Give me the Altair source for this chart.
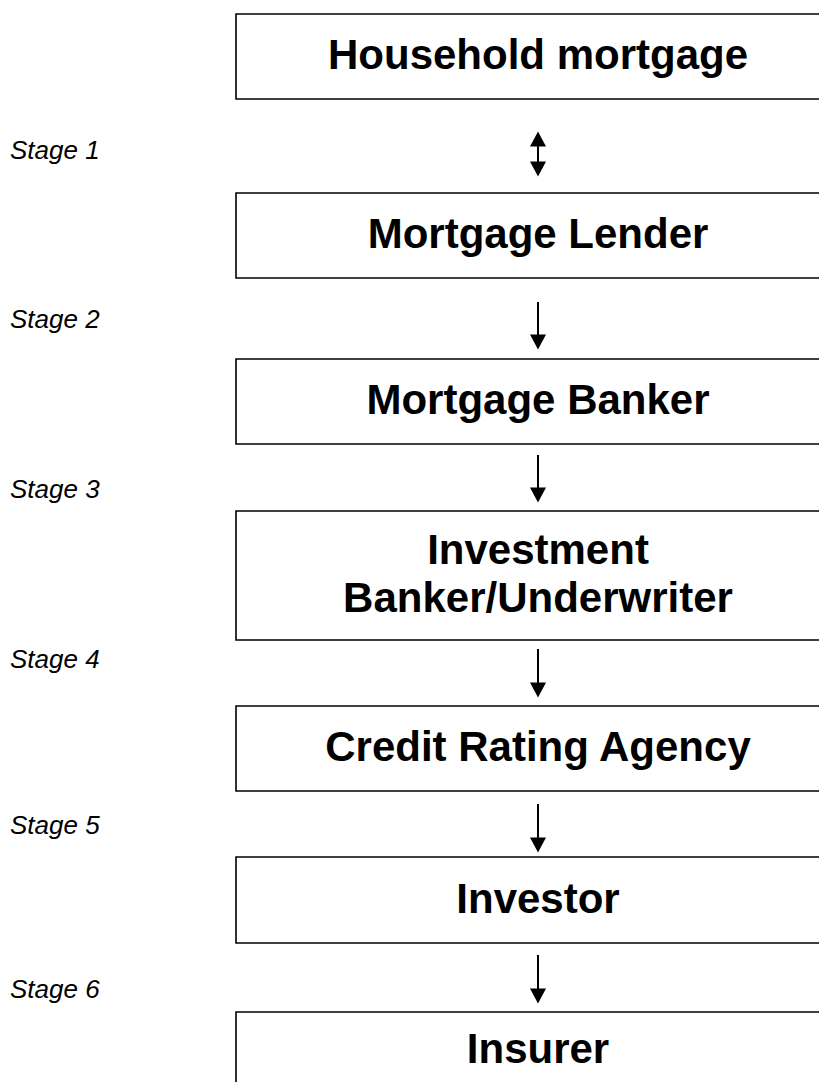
import altair as alt
import pandas as pd

# ---- data (page pixel coordinates) ----
box_labels = ["Household mortgage", "Mortgage Lender", "Mortgage Banker",
              "Investment\nBanker/Underwriter", "Credit Rating Agency",
              "Investor", "Insurer"]
box_top = [14, 193, 359, 511, 706, 857, 1012]
box_bottom = [99, 278, 444, 640, 791, 943, 1110]
label_y = [56, 235, 401, 551, 748, 900, 1050]

stage_labels = ["Stage 1", "Stage 2", "Stage 3", "Stage 4", "Stage 5", "Stage 6"]
stage_y = [151, 320, 490, 660, 826, 990]

arrow_top = [131, 302, 455, 649, 804, 955]
arrow_tip = [177, 350, 503, 698, 853, 1004]
arrow_double = [True, False, False, False, False, False]

BOX_LEFT, BOX_RIGHT, CX, STAGE_X = 236, 1000, 538, 10
W, H = 811, 1074
HEAD = 16

boxes = pd.DataFrame({"label": box_labels, "top": box_top, "bottom": box_bottom,
                      "ly": label_y, "x": BOX_LEFT, "x2": BOX_RIGHT, "cx": CX})
stages = pd.DataFrame({"label": stage_labels, "y": stage_y, "x": STAGE_X})

shafts = pd.DataFrame({"x": CX,
                       "y": [t + (HEAD - 2 if d else 0) for t, d in zip(arrow_top, arrow_double)],
                       "y2": [b - HEAD + 2 for b in arrow_tip]})
heads_rows = []
for t, b, d in zip(arrow_top, arrow_tip, arrow_double):
    heads_rows.append({"x": CX, "y": b - HEAD / 2, "dir": "down"})
    if d:
        heads_rows.append({"x": CX, "y": t + HEAD / 2, "dir": "up"})
heads = pd.DataFrame(heads_rows)

xs = alt.Scale(domain=[8, 8 + W], range=[0, W])
ys = alt.Scale(domain=[8, 8 + H], range=[0, H])
FONT = "Liberation Sans, Arial, Helvetica, sans-serif"

rects = alt.Chart(boxes).mark_rect(
    fill="white", stroke="black", strokeWidth=1.6, clip=True
).encode(
    x=alt.X("x:Q", scale=xs, axis=None), x2="x2:Q",
    y=alt.Y("top:Q", scale=ys, axis=None), y2="bottom:Q",
)

box_text = alt.Chart(boxes).mark_text(
    font=FONT, fontSize=42, fontWeight="bold", color="black",
    align="center", baseline="middle", lineBreak="\n", lineHeight=48,
).encode(
    x=alt.X("cx:Q", scale=xs, axis=None),
    y=alt.Y("ly:Q", scale=ys, axis=None),
    text="label:N",
)

stage_text = alt.Chart(stages).mark_text(
    font=FONT, fontSize=26, fontStyle="italic", color="black",
    align="left", baseline="middle",
).encode(
    x=alt.X("x:Q", scale=xs, axis=None),
    y=alt.Y("y:Q", scale=ys, axis=None),
    text="label:N",
)

shaft_rules = alt.Chart(shafts).mark_rule(color="black", strokeWidth=2).encode(
    x=alt.X("x:Q", scale=xs, axis=None),
    y=alt.Y("y:Q", scale=ys, axis=None), y2="y2:Q",
)

down_path = "M-1,-0.94L1,-0.94L0,0.94Z"
up_path = "M-1,0.94L1,0.94L0,-0.94Z"
head_marks = alt.Chart(heads).mark_point(
    filled=True, color="black", size=HEAD * HEAD, strokeWidth=0, opacity=1
).encode(
    x=alt.X("x:Q", scale=xs, axis=None),
    y=alt.Y("y:Q", scale=ys, axis=None),
    shape=alt.Shape("dir:N", scale=alt.Scale(domain=["down", "up"], range=[down_path, up_path]), legend=None),
)

chart = alt.layer(rects, box_text, stage_text, shaft_rules, head_marks).properties(
    width=W, height=H, padding=0, background="white"
).configure_view(strokeWidth=0)

chart.save("out.html", embed_options={"renderer": "svg", "actions": False})
